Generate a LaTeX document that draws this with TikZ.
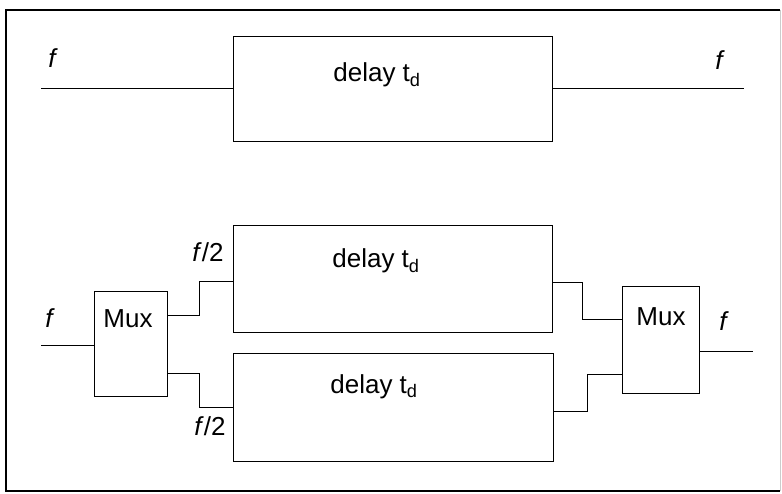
\documentclass[tikz,border=0pt]{standalone}
\usepackage{fontspec}
\setmainfont{Liberation Sans}
\usetikzlibrary{positioning}

\begin{document}
\begin{tikzpicture}[x=1pt, y=-1pt, line width=1pt,
        block/.style={draw, rectangle, inner sep=0pt, anchor=north west},
        txt/.style={anchor=base, inner sep=0pt, font=\fontsize{26}{30}\selectfont}]
        \useasboundingbox (0,0) rectangle (782,494);
        % outer frame
        \draw[line width=1.6pt] (780,10) -- (6,10) -- (6,491) -- (780,491);
        \draw[gray!40] (780,10) -- (780,491);

        % single delay line
        \node[block, minimum width=319pt, minimum height=105pt] (delay) at (233,36) {};
        \node[txt] (dlabel) at (377,82) {delay t\textsubscript{d}};
        \coordinate (fin) at (41,89);
        \coordinate (fout) at (744,89);
        \draw (fin) -- (fin -| delay.west);
        \draw (delay.east |- fout) -- (fout);
        \node[txt] (fa) at (53,68) {\textit{f}};
        \node[txt] (fb) at (720,70) {\textit{f}};

        % two delays in parallel, split and merged by a mux
        \node[block, minimum width=73pt, minimum height=105pt] (muxin) at (94,291) {};
        \node[txt] (muxinlabel) at (128,328) {Mux};
        \node[block, minimum width=319pt, minimum height=107pt] (delayA) at (233,225) {};
        \node[txt] (dAlabel) at (376,268) {delay t\textsubscript{d}};
        \node[block, minimum width=320pt, minimum height=108pt] (delayB) at (233,353) {};
        \node[txt] (dBlabel) at (374,393) {delay t\textsubscript{d}};
        \node[block, minimum width=77pt, minimum height=107pt] (muxout) at (622,286) {};
        \node[txt] (muxoutlabel) at (661,326) {Mux};

        \coordinate (fin2) at (41,346);
        \coordinate (fout2) at (753,352);
        \draw (fin2) -- (fin2 -| muxin.west);
        \draw ([yshift=-25pt]muxin.north east) -- ++(31,0) |- ([yshift=-57pt]delayA.north west);
        \draw ([yshift=24pt]muxin.south east) -- ++(31,0) |- ([yshift=-54pt]delayB.north west);
        \draw ([yshift=-58pt]delayA.north east) -- ++(29,0) |- ([yshift=-34pt]muxout.north west);
        \draw ([yshift=-58pt]delayB.north east) -- ++(33,0) |- ([yshift=-88pt]muxout.north west);
        \draw ([yshift=-66pt]muxout.north east) -- (fout2);

        \node[txt] (fc) at (50,328) {\textit{f}};
        \node[txt] (fd) at (724,331) {\textit{f}};
        \node[txt] (fhalfa) at (208,262) {\textit{f}/2};
        \node[txt] (fhalfb) at (210,435) {\textit{f}/2};
\end{tikzpicture}
\end{document}
